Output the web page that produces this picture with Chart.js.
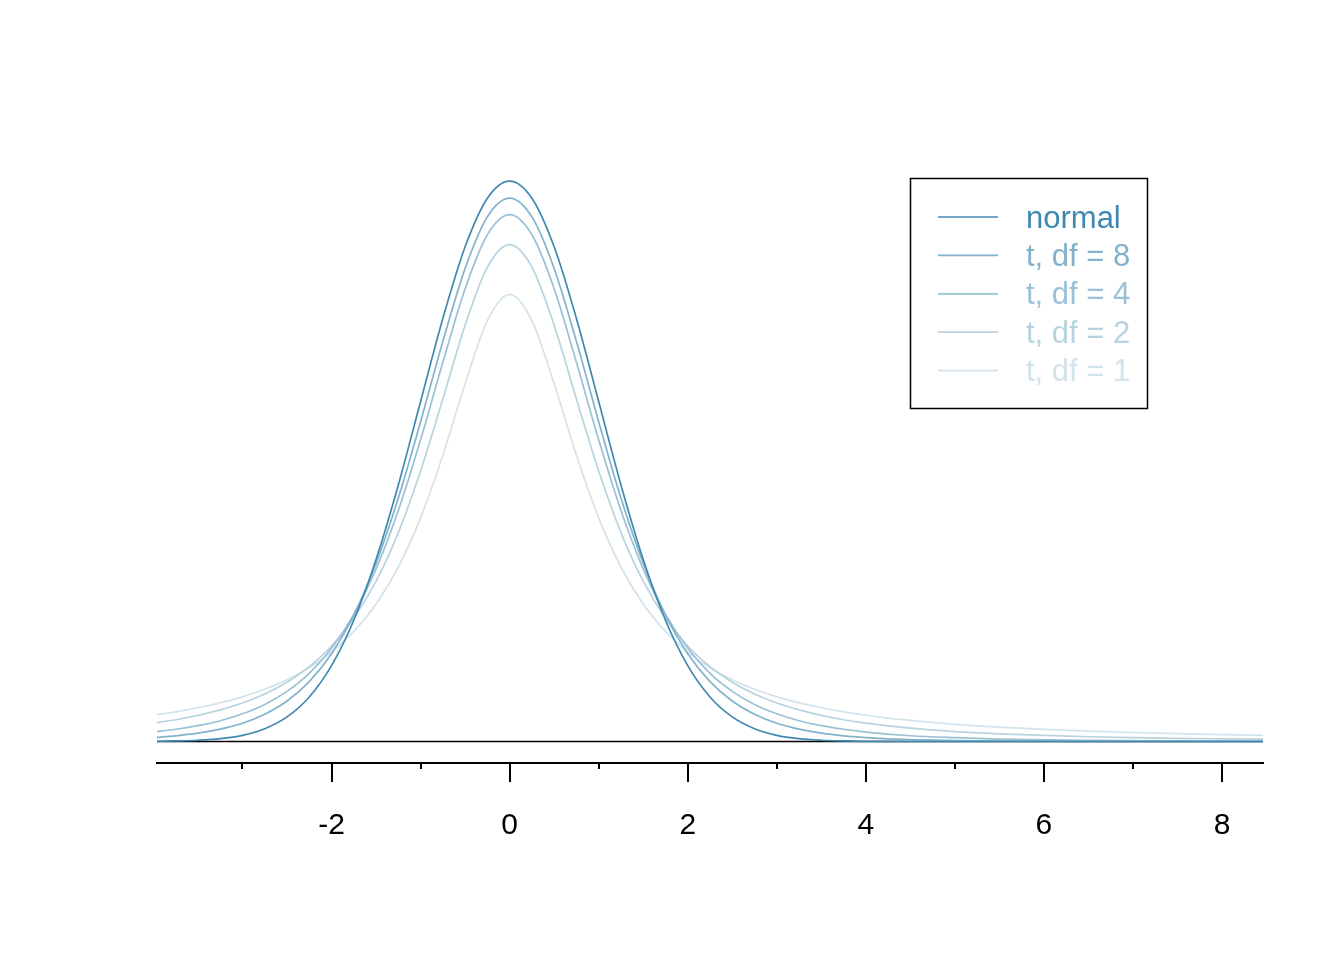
<!DOCTYPE html>
<html>
<head>
<meta charset="utf-8">
<script src="https://cdn.jsdelivr.net/npm/chart.js@4"></script>
<style>
  body { margin: 0; background: #fff; }
  canvas { display: block; }
</style>
</head>
<body>
<canvas id="dens" width="1344" height="960"></canvas>
<script>
var xs = [-4, -3.75, -3.5, -3.25, -3, -2.75, -2.5, -2.25, -2, -1.75, -1.5, -1.25, -1, -0.75, -0.5, -0.25,
          0, 0.25, 0.5, 0.75, 1, 1.25, 1.5, 1.75, 2, 2.25, 2.5, 2.75, 3, 3.25, 3.5, 3.75, 4,
          4.5, 5, 5.5, 6, 6.5, 7, 7.5, 8, 8.5];

var normalDens = [0.0001,0.0004,0.0009,0.0020,0.0044,0.0091,0.0175,0.0317,0.0540,0.0863,0.1295,0.1826,0.2420,0.3011,0.3521,0.3867,
                  0.3989,0.3867,0.3521,0.3011,0.2420,0.1826,0.1295,0.0863,0.0540,0.0317,0.0175,0.0091,0.0044,0.0020,0.0009,0.0004,0.0001,
                  0,0,0,0,0,0,0,0,0];
var tDf8 = [0.0028,0.0040,0.0059,0.0088,0.0130,0.0194,0.0288,0.0426,0.0624,0.0899,0.1268,0.1733,0.2276,0.2848,0.3367,0.3734,
            0.3867,0.3734,0.3367,0.2848,0.2276,0.1733,0.1268,0.0899,0.0624,0.0426,0.0288,0.0194,0.0130,0.0088,0.0059,0.0040,0.0028,
            0.0013,0.0007,0.0003,0.0002,0.0001,0.0001,0,0,0];
var tDf4 = [0.0067,0.0087,0.0113,0.0148,0.0197,0.0264,0.0357,0.0485,0.0663,0.0905,0.1229,0.1644,0.2147,0.2699,0.3223,0.3607,
            0.3750,0.3607,0.3223,0.2699,0.2147,0.1644,0.1229,0.0905,0.0663,0.0485,0.0357,0.0264,0.0197,0.0148,0.0113,0.0087,0.0067,
            0.0041,0.0027,0.0017,0.0012,0.0008,0.0006,0.0004,0.0003,0.0002];
var tDf2 = [0.0131,0.0155,0.0186,0.0225,0.0274,0.0338,0.0422,0.0533,0.0680,0.0878,0.1141,0.1487,0.1925,0.2438,0.2963,0.3376,
            0.3536,0.3376,0.2963,0.2438,0.1925,0.1487,0.1141,0.0878,0.0680,0.0533,0.0422,0.0338,0.0274,0.0225,0.0186,0.0155,0.0131,
            0.0095,0.0071,0.0055,0.0043,0.0034,0.0027,0.0022,0.0019,0.0016];
var tDf1 = [0.0187,0.0211,0.0240,0.0275,0.0318,0.0372,0.0439,0.0525,0.0637,0.0784,0.0979,0.1242,0.1592,0.2037,0.2546,0.2996,
            0.3183,0.2996,0.2546,0.2037,0.1592,0.1242,0.0979,0.0784,0.0637,0.0525,0.0439,0.0372,0.0318,0.0275,0.0240,0.0211,0.0187,
            0.0150,0.0122,0.0102,0.0086,0.0074,0.0064,0.0056,0.0049,0.0043];

var seriesNames = ["normal", "t, df = 8", "t, df = 4", "t, df = 2", "t, df = 1"];
var seriesValues = [normalDens, tDf8, tDf4, tDf2, tDf1];
var seriesColors = ["#3F88B0", "#82B2CC", "#9AC1D5", "#B8D3E0", "#D2E3EB"];

// axis ticks: long ones get a label, short ones don't
var tickValues = [-3, -2, -1, 0, 1, 2, 3, 4, 5, 6, 7, 8];
var tickLabels = ["", "-2", "", "0", "", "2", "", "4", "", "6", "", "8"];

var FONT = "'Liberation Sans', Arial, Helvetica, sans-serif";

function toPoints(vals) {
    var pts = [];
    for (var i = 0; i < xs.length; i++) {
        pts.push({x: xs[i], y: vals[i]});
    }
    return pts;
}

var datasets = [];
for (var i = 0; i < seriesNames.length; i++) {
    datasets.push({
        label: seriesNames[i],
        data: toPoints(seriesValues[i]),
        borderColor: seriesColors[i],
        borderWidth: 1.7,
        pointRadius: 0,
        fill: false,
        cubicInterpolationMode: 'monotone',
        order: i
    });
}

// zero line behind the curves
var baselinePlugin = {
    id: 'baseline',
    beforeDatasetsDraw: function(chart) {
        var ctx = chart.ctx, area = chart.chartArea;
        var y0 = chart.scales.y.getPixelForValue(0);
        ctx.save();
        ctx.strokeStyle = '#000';
        ctx.lineWidth = 1.5;
        ctx.beginPath();
        ctx.moveTo(area.left, y0);
        ctx.lineTo(area.right, y0);
        ctx.stroke();
        ctx.restore();
    }
};

// R style tick marks under the axis line
var ticksPlugin = {
    id: 'rticks',
    afterDraw: function(chart) {
        var ctx = chart.ctx, x = chart.scales.x;
        var top = x.top;
        ctx.save();
        ctx.strokeStyle = '#000';
        ctx.lineWidth = 2;
        for (var i = 0; i < tickValues.length; i++) {
            var px = Math.round(x.getPixelForValue(tickValues[i]));
            var len = tickLabels[i] === "" ? 6 : 19;
            ctx.beginPath();
            ctx.moveTo(px, top);
            ctx.lineTo(px, top + len);
            ctx.stroke();
        }
        ctx.restore();
    }
};

// boxed legend in the top right
var legendPlugin = {
    id: 'boxLegend',
    afterDraw: function(chart) {
        var ctx = chart.ctx;
        var bx = 910.5, by = 178.5, bw = 237, bh = 230;
        ctx.save();
        ctx.strokeStyle = '#000';
        ctx.lineWidth = 1.5;
        ctx.strokeRect(bx, by, bw, bh);
        ctx.font = '31px ' + FONT;
        ctx.textBaseline = 'middle';
        ctx.textAlign = 'left';
        for (var i = 0; i < chart.data.datasets.length; i++) {
            var ds = chart.data.datasets[i];
            var rowY = 217 + i * 38.4;
            ctx.strokeStyle = ds.borderColor;
            ctx.lineWidth = 1.7;
            ctx.beginPath();
            ctx.moveTo(938, rowY);
            ctx.lineTo(998, rowY);
            ctx.stroke();
            ctx.fillStyle = ds.borderColor;
            ctx.fillText(ds.label, 1026, rowY + 2);
        }
        ctx.restore();
    }
};

new Chart(document.getElementById("dens"), {
    type: 'line',
    data: { datasets: datasets },
    options: {
        responsive: false,
        animation: false,
        layout: { padding: { left: 157, right: 81, top: 100, bottom: 0 } },
        plugins: {
            legend: { display: false },
            tooltip: { enabled: false }
        },
        scales: {
            x: {
                type: 'linear',
                min: -3.96,
                max: 8.46,
                afterBuildTicks: function(scale) {
                    scale.ticks = tickValues.map(function(v) { return {value: v}; });
                },
                afterFit: function(scale) {
                    scale.height = 197;
                },
                grid: { display: false, drawTicks: false },
                border: { display: true, color: '#000', width: 2 },
                ticks: {
                    autoSkip: false,
                    maxRotation: 0,
                    padding: 45,
                    color: '#000',
                    font: { family: FONT, size: 30 },
                    callback: function(value) {
                        var k = tickValues.indexOf(value);
                        return k < 0 ? '' : tickLabels[k];
                    }
                }
            },
            y: {
                display: false,
                min: -0.0153,
                max: 0.4566
            }
        }
    },
    plugins: [baselinePlugin, ticksPlugin, legendPlugin]
});
</script>
</body>
</html>
